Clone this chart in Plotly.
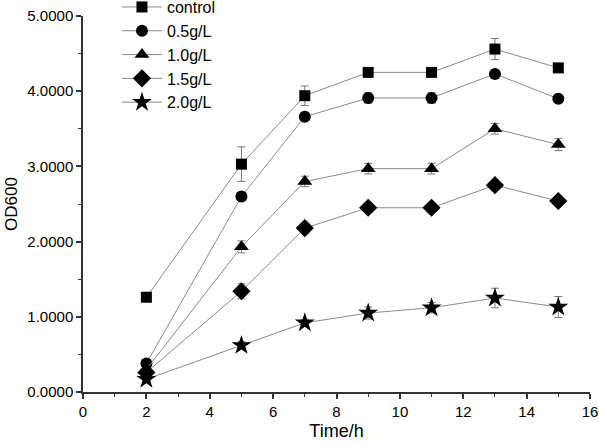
import plotly.graph_objects as go

time_h = [2, 5, 7, 9, 11, 13, 15]
series_names = ["control", "0.5g/L", "1.0g/L", "1.5g/L", "2.0g/L"]
od_control = [1.26, 3.03, 3.94, 4.25, 4.25, 4.56, 4.31]
od_05 = [0.38, 2.60, 3.66, 3.91, 3.91, 4.23, 3.90]
od_10 = [0.30, 1.93, 2.80, 2.97, 2.97, 3.50, 3.29]
od_15 = [0.26, 1.34, 2.18, 2.45, 2.45, 2.75, 2.54]
od_20 = [0.17, 0.62, 0.92, 1.05, 1.12, 1.25, 1.13]
err_control = [0.03, 0.23, 0.13, 0.05, 0.05, 0.14, 0.03]
err_05 = [0.03, 0.05, 0.05, 0.07, 0.07, 0.05, 0.03]
err_10 = [0.03, 0.08, 0.07, 0.07, 0.07, 0.07, 0.08]
err_15 = [0.03, 0.10, 0.07, 0.04, 0.04, 0.05, 0.04]
err_20 = [0.03, 0.05, 0.04, 0.08, 0.07, 0.13, 0.14]
x_ticks = [0, 2, 4, 6, 8, 10, 12, 14, 16]
y_ticks = [0, 1, 2, 3, 4, 5]

values = [od_control, od_05, od_10, od_15, od_20]
errors = [err_control, err_05, err_10, err_15, err_20]
symbols = ["square", "circle", "triangle-up", "diamond", "star"]
sizes = [11, 12, 13, 14, 15]

fig = go.Figure()
# error bars (drawn first, underneath)
for name, v, e in zip(series_names, values, errors):
    fig.add_trace(go.Scatter(
        x=time_h, y=v, name=name, mode="markers", showlegend=False,
        marker=dict(size=1, opacity=0), hoverinfo="skip",
        error_y=dict(type="data", array=e, visible=True, color="#777777",
                     thickness=1, width=4),
    ))
for name, v, sym, sz in zip(series_names, values, symbols, sizes):
    fig.add_trace(go.Scatter(
        x=time_h, y=v, name=name, mode="lines+markers",
        line=dict(color="#8a8a8a", width=1),
        marker=dict(symbol=sym, size=sz, color="black", line=dict(width=0)),
    ))

fig.update_layout(
    width=599, height=446,
    margin=dict(l=83, r=9, t=16, b=54, autoexpand=False),
    paper_bgcolor="white", plot_bgcolor="white",
    font=dict(family="Liberation Sans, Arial, sans-serif", color="black"),
    showlegend=True,
    legend=dict(x=0.067, y=1.069, xanchor="left", yanchor="top",
                font=dict(size=16), bgcolor="rgba(0,0,0,0)",
                tracegroupgap=0, itemwidth=40),
)
fig.update_xaxes(
    range=[0, 16], tickvals=x_ticks, showgrid=False, zeroline=False,
    showline=True, linecolor="#333333", linewidth=1.5,
    ticks="outside", ticklen=5, tickcolor="#333333", tickwidth=1.5,
    tickfont=dict(size=15),
    minor=dict(dtick=1, ticks="outside", ticklen=3, tickcolor="#333333", tickwidth=1),
    title=dict(text="Time/h", font=dict(size=18), standoff=6),
)
fig.update_yaxes(
    range=[0, 5], tickvals=y_ticks, tickformat=".4f", showgrid=False, zeroline=False,
    showline=True, linecolor="#333333", linewidth=1.5,
    ticks="outside", ticklen=5, tickcolor="#333333", tickwidth=1.5,
    tickfont=dict(size=15),
    minor=dict(dtick=0.5, ticks="outside", ticklen=3, tickcolor="#333333", tickwidth=1),
    title=dict(text="OD600", font=dict(size=17), standoff=5),
)
fig.write_html("out.html", config={"displayModeBar": False},
               post_script="document.body.style.margin='0';")
